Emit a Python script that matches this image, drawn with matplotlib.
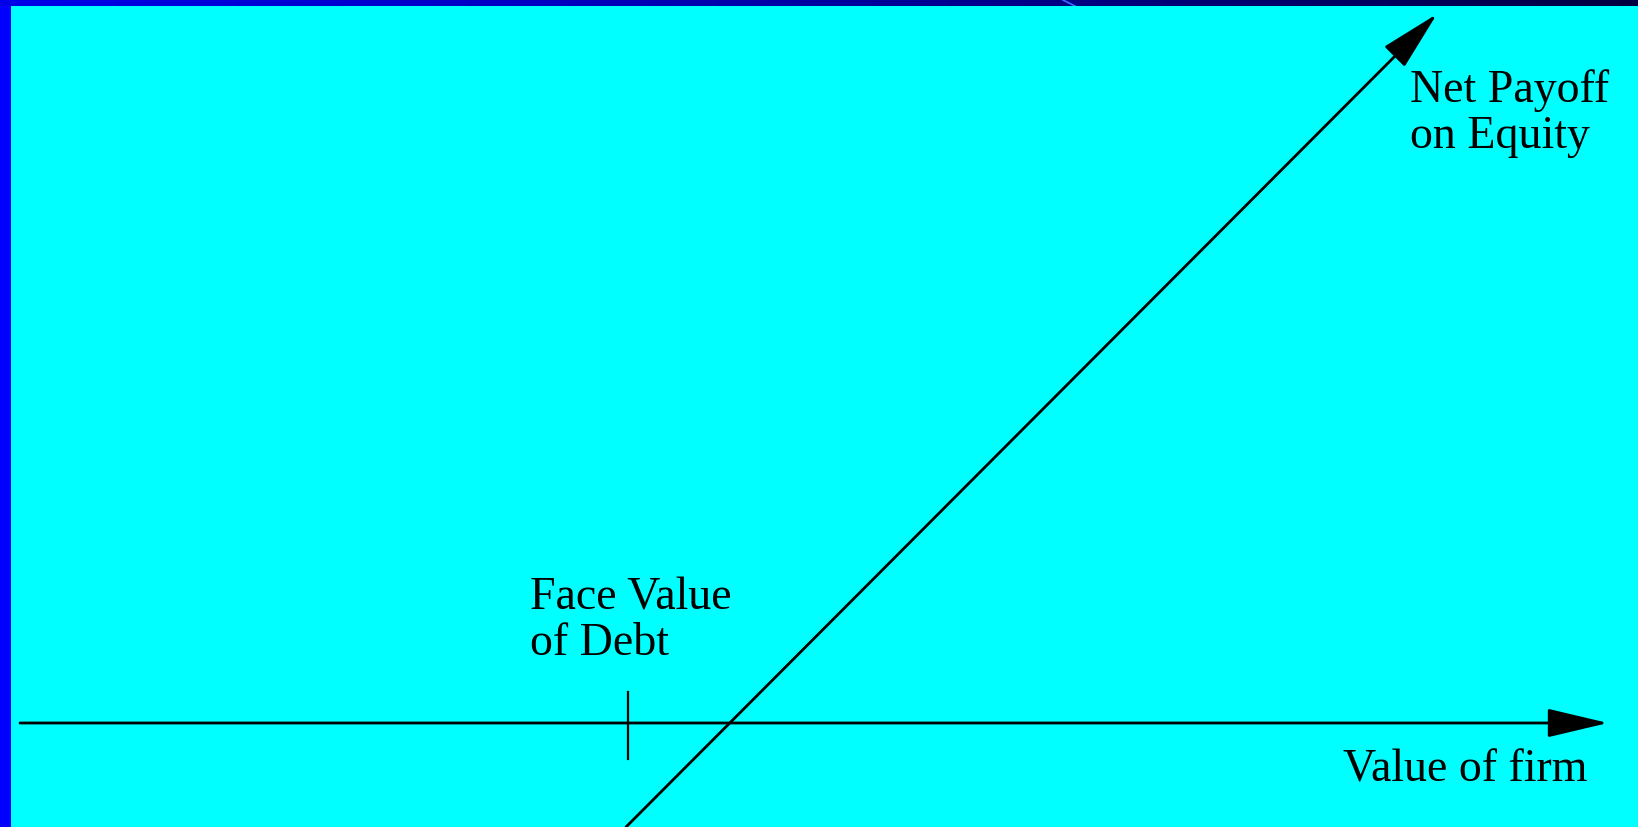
import matplotlib.pyplot as plt
import numpy as np
from matplotlib.colors import LinearSegmentedColormap

# firm value axis (payoff = 0), in drawing units
axis_value = [0, 1588]
face_value = 608          # face value of debt, marked with a tick
tick_half = [-36, 31]

# net payoff on equity line: payoff = value - 710
equity_value = [606, 1417]
equity_payoff = [-104, 709]

labels = ["Net Payoff\non Equity", "Face Value\nof Debt", "Value of firm"]

W, H = 1638, 827
fig = plt.figure(figsize=(W / 100, H / 100), dpi=100)
fig.patch.set_facecolor('#0000FF')

# top strip with a dark gradient
top = fig.add_axes([0, 1 - 6 / H, 1, 6 / H])
grad = np.linspace(0, 1, 256).reshape(1, -1)
cm = LinearSegmentedColormap.from_list('strip', ['#0000E8', '#0000C0', '#000080', '#000040'])
top.imshow(grad, aspect='auto', cmap=cm, extent=[0, W, 6, 0])
top.plot([1063, 1075], [0, 6], color='#3a6cff', lw=1.2)
top.set_xlim(0, W)
top.set_ylim(6, 0)
top.axis('off')

ax = fig.add_axes([11 / W, 0, 1 - 11 / W, 1 - 6 / H])
ax.set_facecolor('#00FFFF')
ax.set_xlim(-9, 1618)
ax.set_ylim(-104, 717)
for s in ax.spines.values():
    s.set_visible(False)
ax.set_xticks([])
ax.set_yticks([])

arrow = dict(arrowstyle='-|>,head_length=3.8,head_width=0.9', mutation_scale=10,
             color='black', lw=2, shrinkA=0, shrinkB=0)

# horizontal axis
ax.annotate('', xy=(axis_value[1], 0), xytext=(axis_value[0], 0), arrowprops=arrow)
# tick at face value of debt
ax.plot([face_value, face_value], tick_half, color='black', lw=1.6)
# equity payoff line
ax.annotate('', xy=(equity_value[1], equity_payoff[1]),
            xytext=(equity_value[0], equity_payoff[0]), arrowprops=arrow,
            annotation_clip=False)

font = dict(family='Liberation Serif', fontsize=33, color='black', linespacing=1.1)
ax.text(1390, 575, labels[0], ha='left', va='baseline', **font)
ax.text(510, 68, labels[1], ha='left', va='baseline', **font)
ax.text(1323, -59, labels[2], ha='left', va='baseline', **font)

fig.savefig('out.png', dpi=100, facecolor=fig.get_facecolor())
